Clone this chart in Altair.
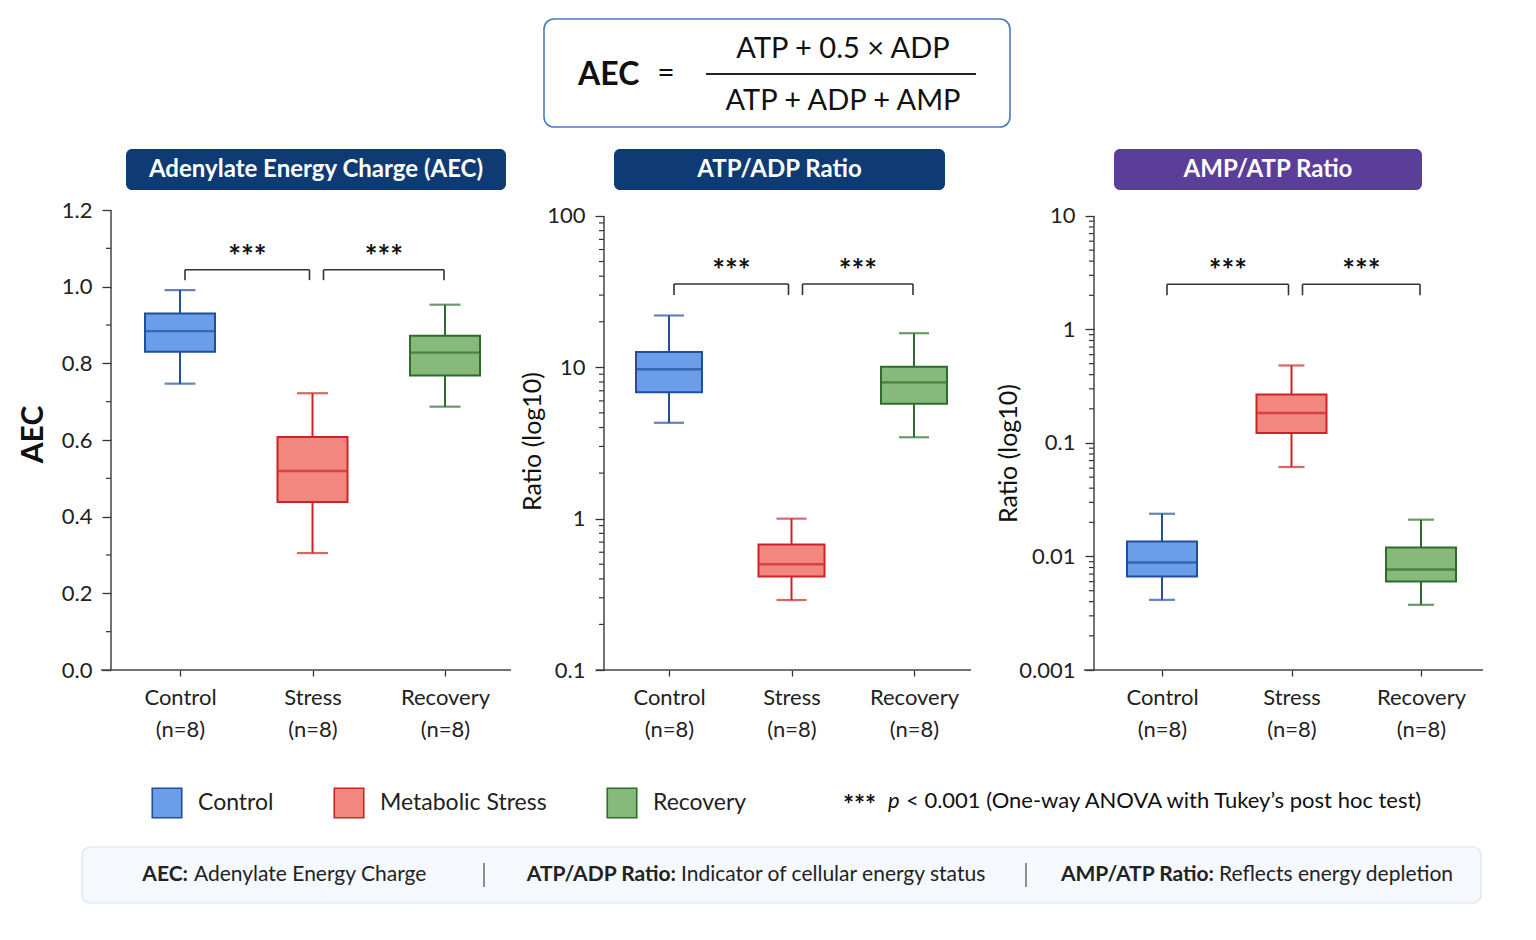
import altair as alt
import pandas as pd

# ---------------- data ----------------
groups = ["Control", "Metabolic Stress", "Recovery"]
short_names = ["Control", "Stress", "Recovery"]
n_per_group = [8, 8, 8]

# five-number summaries: min, q1, median, q3, max
aec_min = [0.747, 0.305, 0.687]
aec_q1 = [0.830, 0.438, 0.768]
aec_med = [0.884, 0.519, 0.828]
aec_q3 = [0.930, 0.608, 0.872]
aec_max = [0.991, 0.722, 0.953]

atpadp_min = [4.3, 0.29, 3.45]
atpadp_q1 = [6.85, 0.415, 5.75]
atpadp_med = [9.7, 0.50, 7.95]
atpadp_q3 = [12.6, 0.675, 10.1]
atpadp_max = [22.0, 1.0, 16.8]

ampatp_min = [0.00415, 0.0614, 0.00375]
ampatp_q1 = [0.00666, 0.1225, 0.00602]
ampatp_med = [0.00885, 0.184, 0.00768]
ampatp_q3 = [0.01356, 0.267, 0.0120]
ampatp_max = [0.0238, 0.482, 0.0211]

panel_titles = ["Adenylate Energy Charge (AEC)", "ATP/ADP Ratio", "AMP/ATP Ratio"]
y_titles = ["AEC", "Ratio (log10)", "Ratio (log10)"]
sig_label = "***"

aec_ticks = [0.0, 0.2, 0.4, 0.6, 0.8, 1.0, 1.2]
aec_minor = [0.1, 0.3, 0.5, 0.7, 0.9, 1.1]
atpadp_ticks = [0.1, 1, 10, 100]
ampatp_ticks = [0.001, 0.01, 0.1, 1, 10]
minor_mult = [2, 3, 4, 5, 6, 7, 8, 9]
atpadp_minor = [m * d for d in atpadp_ticks[:-1] for m in minor_mult]
ampatp_minor = [m * d for d in ampatp_ticks[:-1] for m in minor_mult]

# bracket heights (top, drop) for each panel
aec_bracket = [1.044, 1.017]
atpadp_bracket = [35.5, 30.0]
ampatp_bracket = [2.5, 2.0]

fill_colors = ["#6b9de8", "#f2877f", "#86b97a"]
line_colors = ["#1f4f9e", "#cc2424", "#2f6c2c"]
NAVY = "#0e3b73"
PURPLE = "#5b3d9a"

formula_lhs = "AEC"
formula_num = "ATP + 0.5 × ADP"
formula_den = "ATP + ADP + AMP"
sig_note = "< 0.001 (One-way ANOVA with Tukey\u2019s post hoc test)"
footer_items = [("AEC:", "Adenylate Energy Charge"),
                ("ATP/ADP Ratio:", "Indicator of cellular energy status"),
                ("AMP/ATP Ratio:", "Reflects energy depletion")]

FONT = "Lato"
H = 460
ONE = alt.Data(values=[{"k": 0}])
xcats = [f"{s}|(n={n})" for s, n in zip(short_names, n_per_group)]


def stats_df(mins, q1, med, q3, maxs):
    return pd.DataFrame({"group": groups, "cat": xcats, "lo": mins, "q1": q1,
                         "med": med, "q3": q3, "hi": maxs})


def text_layer(text, x, y, size, weight="normal", color="#222", align="left",
               style="normal", baseline="middle"):
    return alt.Chart(ONE).mark_text(
        text=text, fontSize=size, fontWeight=weight, color=color, align=align,
        fontStyle=style, baseline=baseline, font=FONT
    ).encode(x=alt.value(x), y=alt.value(y))


def rect_layer(x, x2, y, y2, fill, stroke=None, sw=0, radius=0):
    kw = dict(fill=fill, cornerRadius=radius)
    if stroke:
        kw.update(stroke=stroke, strokeWidth=sw)
    else:
        kw.update(strokeWidth=0)
    return alt.Chart(ONE).mark_rect(**kw).encode(
        x=alt.value(x), x2=alt.value(x2), y=alt.value(y), y2=alt.value(y2))


def rule_layer(x, x2, y, y2, color, sw):
    return alt.Chart(ONE).mark_rule(color=color, strokeWidth=sw).encode(
        x=alt.value(x), x2=alt.value(x2), y=alt.value(y), y2=alt.value(y2))


LEGEND = alt.Legend(orient="none", legendX=40, legendY=577, direction="horizontal",
                    title=None, symbolType="square", symbolSize=870,
                    symbolStrokeWidth=1.6, labelFontSize=23, labelColor="#222",
                    labelOffset=15, columnPadding=57, padding=0, labelFont=FONT,
                    labelLimit=400)


def panel(df, width, ytype, ydomain, ymajor, yminor, yfmt, ytitle, tstyle,
          title_text, banner, bracket, xrange, box_w, cap_w, yline_top, xline,
          show_legend, extra=()):
    xs = alt.Scale(type="point", domain=xcats, range=xrange, padding=0)
    if ytype == "log":
        ys = alt.Scale(type="log", domain=ydomain, nice=False)
    else:
        ys = alt.Scale(domain=ydomain, nice=False, zero=False)
    fs = alt.Scale(domain=groups, range=fill_colors)
    ss = alt.Scale(domain=groups, range=line_colors)
    cs = alt.Scale(domain=xcats, range=line_colors)

    xaxis = alt.Axis(title=None, domain=False, labelExpr="split(datum.label, '|')",
                     labelAngle=0, labelFontSize=22, labelColor="#222",
                     labelLineHeight=32, labelPadding=11, tickSize=6,
                     tickColor="#333", tickWidth=1.3, grid=False, labelFont=FONT)
    yaxis = alt.Axis(values=ymajor, format=yfmt, domain=False, tickSize=9,
                     tickColor="#333", tickWidth=1.3, labelFontSize=22,
                     labelColor="#222", labelPadding=10, grid=False,
                     labelFlush=False, labelOverlap=False, labelFont=FONT,
                     title=ytitle, titleFontSize=tstyle["size"],
                     titleFontWeight=tstyle["weight"], titleColor="#111",
                     titleX=tstyle["x"], titleY=tstyle["y"], titleAngle=270,
                     titleAlign="center", titleBaseline="middle", titleFont=FONT)

    def X(f):
        return alt.X(f, scale=xs, axis=xaxis)

    def Y(f):
        return alt.Y(f, scale=ys, axis=yaxis)

    base = alt.Chart(df)
    leg = LEGEND if show_legend else None
    stroke_box = alt.Stroke("group:N", scale=ss, legend=leg)
    fill_box = alt.Fill("group:N", scale=fs, legend=leg)
    color_enc = alt.Color("cat:N", scale=cs, legend=None)

    whisk = base.mark_rule(strokeWidth=2).encode(
        x=X("cat:N"), y=Y("lo:Q"), y2="hi:Q", color=color_enc)
    cap_lo = base.mark_tick(size=cap_w, thickness=2.2).encode(
        x=X("cat:N"), y=Y("lo:Q"), color=color_enc)
    cap_hi = base.mark_tick(size=cap_w, thickness=2.2).encode(
        x=X("cat:N"), y=Y("hi:Q"), color=color_enc)
    box = base.mark_bar(size=box_w, strokeWidth=2, fillOpacity=1).encode(
        x=X("cat:N"), y=Y("q3:Q"), y2="q1:Q", fill=fill_box, stroke=stroke_box)
    med = base.mark_tick(size=box_w - 2, thickness=2.4).encode(
        x=X("cat:N"), y=Y("med:Q"), color=color_enc)

    minor = alt.Chart(pd.DataFrame({"v": yminor})).mark_rule(
        color="#333", strokeWidth=1.2).encode(
        y=Y("v:Q"), x=alt.value(-5), x2=alt.value(0))

    # axis lines
    yline = rule_layer(0, 0, yline_top, H, "#444", 1.5)
    xl = rule_layer(xline[0], xline[1], H, H, "#444", 1.5)

    # significance brackets
    step = (xrange[1] - xrange[0]) / 2.0
    offs = [(5, -3), (11, -1)]
    br_layers = []
    for i in range(2):
        bdf = pd.DataFrame({"a": [xcats[i]], "b": [xcats[i + 1]],
                            "y": [bracket[0]], "yd": [bracket[1]]})
        oa, ob = offs[i]
        bb = alt.Chart(bdf)
        br_layers.append(bb.mark_rule(color="#333", strokeWidth=1.6, xOffset=oa,
                                      x2Offset=ob).encode(
            x=X("a:N"), x2="b:N", y=Y("y:Q")))
        br_layers.append(bb.mark_rule(color="#333", strokeWidth=1.6, xOffset=oa).encode(
            x=X("a:N"), y=Y("y:Q"), y2="yd:Q"))
        br_layers.append(bb.mark_rule(color="#333", strokeWidth=1.6, xOffset=ob).encode(
            x=X("b:N"), y=Y("y:Q"), y2="yd:Q"))
        br_layers.append(bb.mark_text(text=sig_label, fontSize=30, fontWeight="bold",
                                      color="#111", font=FONT, baseline="middle",
                                      xOffset=step / 2 + (oa + ob) / 2, dy=-12).encode(
            x=X("a:N"), y=Y("y:Q")))

    bx0, bx1, bcol = banner
    ban = [rect_layer(bx0, bx1, -61, -20, bcol, radius=6),
           text_layer(title_text, (bx0 + bx1) / 2, -40, 24, weight="bold",
                      color="white", align="center")]

    layers = [whisk, cap_lo, cap_hi, box, med, minor, yline, xl] + br_layers + ban + list(extra)
    return alt.layer(*layers).properties(width=width, height=H)


# ---- extra decorations placed relative to panel 1's plot origin ----
extras = [
    # page anchor (white) at the page's top-left corner
    rule_layer(-110, -109, -209, -209, "white", 1),
    # formula box
    rect_layer(433, 899, -191, -83, "white", stroke="#4a7ac2", sw=1.6, radius=10),
    text_layer(formula_lhs, 467, -135, 32, weight="bold", color="#111"),
    text_layer("=", 555, -136, 30, color="#111", align="center"),
    text_layer(formula_num, 732, -161, 29, color="#111", align="center"),
    rule_layer(595, 865, -136, -136, "#222", 2),
    text_layer(formula_den, 732, -109, 29, color="#111", align="center"),
    # significance note
    text_layer(sig_label, 732, 596, 26, weight="bold", color="#111"),
    text_layer("p", 777, 591, 22, style="italic", color="#111"),
    text_layer(sig_note, 795, 591, 22, color="#111"),
    # footer
    rect_layer(-29, 1370, 637, 693, "#f5f8fc", stroke="#dbe2ea", sw=1.2, radius=8),
    text_layer(footer_items[0][0], 77, 665, 21, weight="bold", align="right"),
    text_layer(footer_items[0][1], 83, 665, 21),
    rule_layer(373, 373, 653, 677, "#555", 1.3),
    text_layer(footer_items[1][0], 565, 665, 21, weight="bold", align="right"),
    text_layer(footer_items[1][1], 570, 665, 21),
    rule_layer(915, 915, 653, 677, "#555", 1.3),
    text_layer(footer_items[2][0], 1103, 665, 21, weight="bold", align="right"),
    text_layer(footer_items[2][1], 1108, 665, 21),
]

p1 = panel(stats_df(aec_min, aec_q1, aec_med, aec_q3, aec_max), 400, "linear",
           [0, 1.2], aec_ticks, aec_minor, ".1f", y_titles[0],
           {"size": 30, "weight": "bold", "x": -78, "y": 224},
           panel_titles[0], (15, 395, NAVY), aec_bracket, [69, 334], 70, 31,
           0, (-10, 400), True, extras)

p2 = panel(stats_df(atpadp_min, atpadp_q1, atpadp_med, atpadp_q3, atpadp_max), 397,
           "log", [0.1, 109.5], atpadp_ticks, atpadp_minor, ".3~f", y_titles[1],
           {"size": 25, "weight": "normal", "x": -72, "y": 231},
           panel_titles[1], (10, 341, NAVY), atpadp_bracket, [65, 310], 66, 30,
           6, (-8, 367), False)

p3 = panel(stats_df(ampatp_min, ampatp_q1, ampatp_med, ampatp_q3, ampatp_max), 389,
           "log", [0.001, 11.29], ampatp_ticks, ampatp_minor, ".3~f", y_titles[2],
           {"size": 25, "weight": "normal", "x": -86, "y": 243},
           panel_titles[2], (20, 328, PURPLE), ampatp_bracket, [68, 327], 70, 26,
           6, (-10, 389), False)

chart = alt.hconcat(p1, p2, p3, spacing=93, bounds="flush").resolve_scale(
    fill="independent", stroke="independent", color="independent"
).resolve_legend(fill="independent", stroke="independent", color="independent").properties(
    padding=0, background="white"
).configure(font=FONT).configure_view(strokeWidth=0)

chart.save("out.html", embed_options={"renderer": "svg", "actions": False})
